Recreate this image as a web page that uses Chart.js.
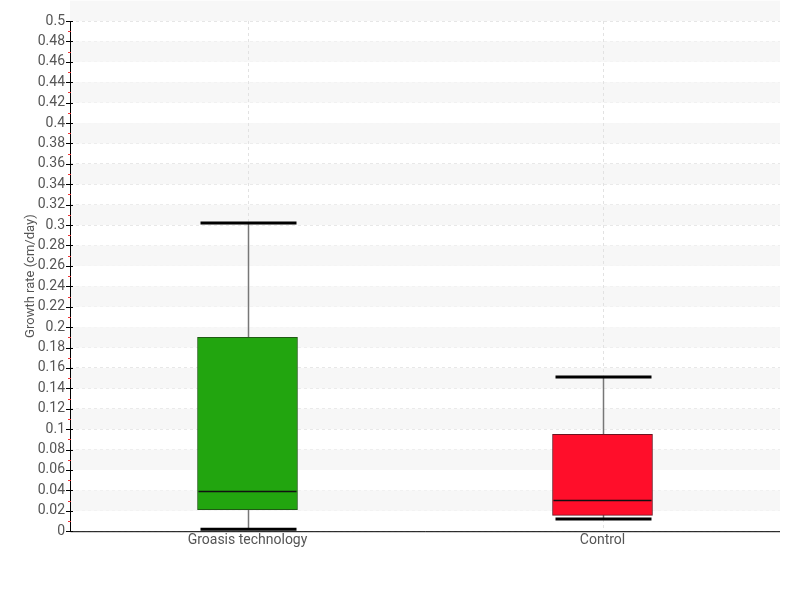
<!DOCTYPE html>
<html lang="en">
<head>
    <meta charset="UTF-8">
    <title>Growth rate</title>
    <script src="https://cdn.jsdelivr.net/npm/chart.js@4.4.0/dist/chart.umd.min.js"></script>
    <style>
        body { margin: 0; background: #fff; }
    </style>
</head>
<body>
    <canvas id="canvas_grafico" width="800" height="600"></canvas>

    <script>
        // box plot values
        var categorias = ['Groasis technology', 'Control'];
        var minimos = [0.002, 0.012];
        var quartil1 = [0.021, 0.0155];
        var medianas = [0.039, 0.030];
        var quartil3 = [0.190, 0.095];
        var maximos = [0.302, 0.151];
        var coresCaixa = ['#22a50f', '#ff0e2a'];
        var coresBorda = ['#1f5a14', '#6e1420'];

        var fonte = 'Roboto, "DejaVu Sans", sans-serif';

        // faixas cinza alternadas, grade vertical, eixos e ticks
        const faixas = {
            id: 'faixas',
            beforeDatasetsDraw(chart) {
                const ctx = chart.ctx;
                const x = chart.scales.x;
                const y = chart.scales.y;
                const area = chart.chartArea;
                ctx.save();
                ctx.fillStyle = '#f7f7f7';
                for (let v = 0.02; v < 0.5; v += 0.04) {
                    const y1 = y.getPixelForValue(v + 0.02);
                    const y2 = y.getPixelForValue(v);
                    ctx.fillRect(area.left, y1, area.right - area.left, y2 - y1);
                }
                ctx.strokeStyle = '#e2e2e2';
                ctx.lineWidth = 1;
                ctx.setLineDash([3, 3]);
                for (let i = 0; i < categorias.length; i++) {
                    const px = Math.round(x.getPixelForValue(i)) + 0.5;
                    ctx.beginPath();
                    ctx.moveTo(px, area.top);
                    ctx.lineTo(px, area.bottom);
                    ctx.stroke();
                }
                ctx.restore();
            },
            afterDraw(chart) {
                const ctx = chart.ctx;
                const y = chart.scales.y;
                const area = chart.chartArea;
                ctx.save();
                ctx.strokeStyle = '#000';
                ctx.lineWidth = 1;
                ctx.beginPath();
                ctx.moveTo(area.left + 0.5, area.top);
                ctx.lineTo(area.left + 0.5, area.bottom + 0.5);
                ctx.lineTo(area.right, area.bottom + 0.5);
                ctx.stroke();
                ctx.strokeStyle = '#e33';
                for (let v = 0.01; v < 0.5; v += 0.02) {
                    const py = Math.round(y.getPixelForValue(v)) + 0.5;
                    ctx.beginPath();
                    ctx.moveTo(area.left - 2, py);
                    ctx.lineTo(area.left + 1, py);
                    ctx.stroke();
                }
                ctx.strokeStyle = '#000';
                for (let v = 0; v <= 0.5001; v += 0.02) {
                    const py = Math.round(y.getPixelForValue(v)) + 0.5;
                    ctx.beginPath();
                    ctx.moveTo(area.left - 4, py);
                    ctx.lineTo(area.left + 3, py);
                    ctx.stroke();
                }
                ctx.restore();
            }
        };

        // bigodes, medianas e tampas
        const bigodes = {
            id: 'bigodes',
            beforeDatasetsDraw(chart) {
                const ctx = chart.ctx;
                const x = chart.scales.x;
                const y = chart.scales.y;
                ctx.save();
                for (let i = 0; i < categorias.length; i++) {
                    const cx = Math.round(x.getPixelForValue(i)) + 0.5;
                    ctx.strokeStyle = '#777';
                    ctx.lineWidth = 1.5;
                    ctx.beginPath();
                    ctx.moveTo(cx, y.getPixelForValue(maximos[i]));
                    ctx.lineTo(cx, y.getPixelForValue(minimos[i]));
                    ctx.stroke();
                    ctx.strokeStyle = '#000';
                    ctx.lineWidth = 3;
                    [maximos[i], minimos[i]].forEach(function (v) {
                        const py = y.getPixelForValue(v);
                        ctx.beginPath();
                        ctx.moveTo(cx - 48, py);
                        ctx.lineTo(cx + 48, py);
                        ctx.stroke();
                    });
                }
                ctx.restore();
            },
            afterDatasetsDraw(chart) {
                const ctx = chart.ctx;
                const x = chart.scales.x;
                const y = chart.scales.y;
                ctx.save();
                ctx.strokeStyle = '#111';
                ctx.lineWidth = 1.5;
                for (let i = 0; i < categorias.length; i++) {
                    const cx = x.getPixelForValue(i);
                    const py = y.getPixelForValue(medianas[i]);
                    ctx.beginPath();
                    ctx.moveTo(cx - 49, py);
                    ctx.lineTo(cx + 49, py);
                    ctx.stroke();
                }
                ctx.restore();
            }
        };

        const ctx = document.getElementById('canvas_grafico').getContext('2d');
        const myChart = new Chart(ctx, {
            type: 'bar',
            data: {
                labels: categorias,
                datasets: [{
                    label: 'Growth rate',
                    data: quartil1.map(function (q, i) { return [q, quartil3[i]]; }),
                    backgroundColor: coresCaixa,
                    borderColor: coresBorda,
                    borderWidth: 1,
                    borderSkipped: false,
                    barThickness: 100
                }]
            },
            options: {
                responsive: false,
                animation: false,
                devicePixelRatio: 1,
                layout: { padding: { top: 21, right: 20, bottom: 50, left: 0 } },
                plugins: {
                    legend: { display: false },
                    tooltip: { enabled: false }
                },
                scales: {
                    x: {
                        grid: { display: false, drawTicks: false, tickLength: 0 },
                        border: { display: false },
                        ticks: { color: '#555', font: { family: fonte, size: 14 }, padding: 1, maxRotation: 0 }
                    },
                    y: {
                        min: 0,
                        max: 0.5,
                        afterFit: function (s) { s.width = 70; },
                        grid: {
                            color: '#e6e6e6',
                            drawTicks: false
                        },
                        border: { display: false, dash: [3, 3] },
                        ticks: {
                            stepSize: 0.02,
                            autoSkip: false,
                            color: '#555',
                            font: { family: fonte, size: 14 },
                            padding: 5,
                            callback: function (v) { return +v.toFixed(2); }
                        },
                        title: {
                            display: true,
                            text: 'Growth rate (cm/day)',
                            color: '#555',
                            font: { family: fonte, size: 13 },
                            padding: { top: 23, bottom: 0 }
                        }
                    }
                }
            },
            plugins: [faixas, bigodes]
        });
    </script>
</body>
</html>
